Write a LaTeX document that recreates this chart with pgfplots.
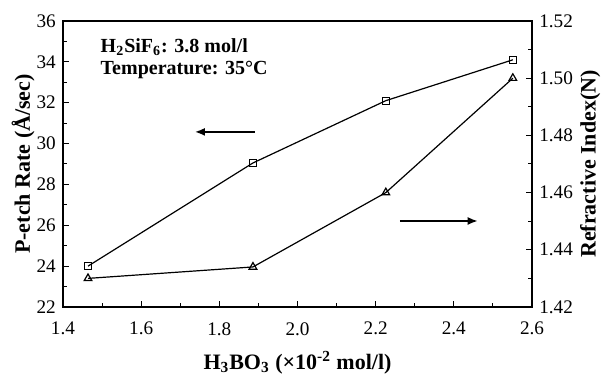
\documentclass[border=0pt]{standalone}
\usepackage{fontspec}
\setmainfont{Liberation Serif}
\usepackage{pgfplots}
\pgfplotsset{compat=1.18}
\usetikzlibrary{arrows.meta}
\begin{document}
\begin{tikzpicture}
\pgfplotsset{
  every axis/.append style={
    scale only axis, width=234.5pt, height=143pt,
    xmin=1.4, xmax=2.6,
    /pgf/number format/assume math mode=true,
    tick label style={font=\fontsize{9.6}{11}\selectfont},
    label style={font=\fontsize{11}{13}\selectfont\bfseries},
    line width=0.6pt,
    minor tick num=1,
    major tick length=3pt, minor tick length=2pt,
    tick style={line width=0.5pt, black},
  }
}
\begin{axis}[
  ymin=22, ymax=36,
  ytick={22,24,...,36},
  xtick={1.4,1.6,...,2.61},
  xticklabels={1.4,1.6,1.8,2.0,2.2,2.4,2.6},
  xtick pos=bottom, ytick pos=left,
  axis line style={line width=1pt},
  xlabel={H\textsubscript{3}BO\textsubscript{3} (×10\textsuperscript{-2} mol/l)},
  ylabel={P-etch Rate (Å/sec)},
  xlabel style={at={(axis description cs:0.5,-0.195)}, anchor=center},
  ylabel style={at={(axis description cs:-0.085,0.5)}, anchor=center},
  yticklabel style={/pgf/number format/fixed, /pgf/number format/precision=0},
  xticklabel style={yshift=-4pt},
]
\addplot[black, mark=square, mark size=1.75pt, mark options={solid, fill=white, line width=0.6pt}] coordinates {
  (1.464,24.0) (1.886,29.05) (2.226,32.1) (2.551,34.1)
};
\draw[-{Latex[length=5pt,width=4pt]}, line width=0.8pt] (axis cs:1.891,30.57) -- (axis cs:1.7376,30.57);
\draw[-{Latex[length=5pt,width=4pt]}, line width=0.8pt] (axis cs:2.262,26.21) -- (axis cs:2.461,26.21);
\node[anchor=north west, inner sep=0pt, align=left, font=\fontsize{10}{11}\selectfont\bfseries] at (axis cs:1.495,35.17)
  {H\textsubscript{2}SiF\textsubscript{6}: 3.8 mol/l\\Temperature: 35°C};
\end{axis}
\begin{axis}[
  ymin=1.42, ymax=1.52,
  ytick={1.42,1.44,...,1.521},
  yticklabels={1.42,1.44,1.46,1.48,1.50,1.52},
  axis x line=none,
  axis y line*=right,
  axis line style={line width=1pt},
  ylabel={Refractive Index(N)},
  ylabel style={at={(axis description cs:1.124,0.5)}, anchor=center},
]
\addplot[black, mark=triangle, mark size=2.2pt, mark options={solid, fill=white, line width=0.6pt}] coordinates {
  (1.464,1.430) (1.886,1.434) (2.226,1.460) (2.551,1.500)
};
\end{axis}
\pgfresetboundingbox
\path ([shift={(-31.5pt,-35.5pt)}]current axis.south west) rectangle ([shift={(34.5pt,10.5pt)}]current axis.north east);
\end{tikzpicture}
\end{document}
